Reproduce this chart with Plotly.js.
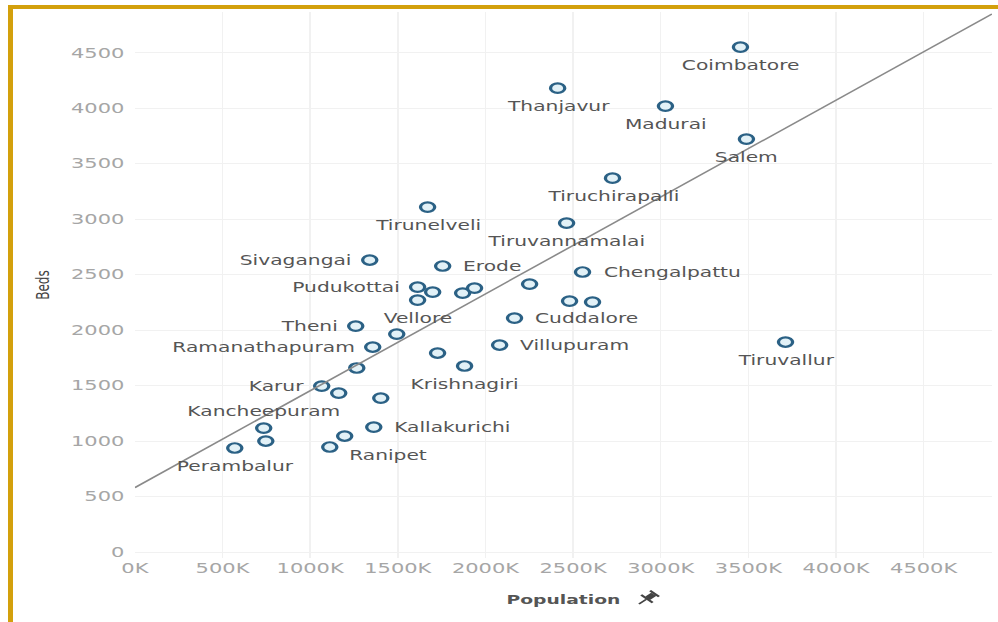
<!DOCTYPE html>
<html><head><meta charset="utf-8">
<script src="https://cdn.plot.ly/plotly-3.0.1.min.js"></script>
<style>
html,body{margin:0;padding:0;background:#fff;}
#wrap{position:relative;width:998px;height:622px;overflow:hidden;background:#fff;}
#chart{position:absolute;left:0;top:0;width:666px;height:622px;transform:scaleX(1.4985);transform-origin:0 0;}
.bl{position:absolute;background:#d3a00c;}
</style></head><body>
<div id="wrap"><div id="chart"></div>
<div class="bl" style="left:8px;top:5px;width:5px;height:617px"></div>
<div class="bl" style="left:8px;top:5px;width:990px;height:4px"></div>
</div>
<script>
// District labels ("" = point without a visible label)
const districts = ["Coimbatore","Thanjavur","Madurai","Salem","Tiruchirapalli","Tirunelveli","Tiruvannamalai",
  "Sivagangai","Erode","Chengalpattu","Pudukottai","Vellore","Cuddalore","Villupuram","Krishnagiri",
  "Theni","Ramanathapuram","Karur","Kallakurichi","Ranipet","Kancheepuram","Perambalur","Tiruvallur",
  "","","","","","","","","","","","",""];
// Population in thousands
const population = [3455,2412,3027,3489,2725,1670,2463,
  1340,1756,2554,1613,1613,2166,2081,1881,
  1260,1357,1066,1363,1112,735,570,3712,
  1699,1870,1938,2252,2480,2611,1727,1494,1266,1163,1403,1197,747];
const beds = [4550,4180,4018,3721,3369,3108,2964,
  2631,2577,2523,2387,2270,2108,1865,1676,
  2036,1847,1495,1126,946,1117,937,1892,
  2342,2333,2378,2414,2261,2252,1793,1964,1658,1432,1387,1045,1000];
// side of the point where each label sits
const labelSide = ["below","below","below","below","below","below","below",
  "left","right","right","left","below","right","right","below",
  "left","left","left","right","belowright","above","below","below",
  "","","","","","","","","","","","",""];
const xTicks = [0,500,1000,1500,2000,2500,3000,3500,4000,4500];
const yTicks = [0,500,1000,1500,2000,2500,3000,3500,4000,4500];

// Linear trend (ordinary least squares)
const n = population.length;
const mx = population.reduce((a,b)=>a+b,0)/n;
const my = beds.reduce((a,b)=>a+b,0)/n;
let sxy=0, sxx=0;
for(let i=0;i<n;i++){ sxy += (population[i]-mx)*(beds[i]-my); sxx += (population[i]-mx)**2; }
const slope = sxy/sxx, intercept = my - slope*mx;
const xRange = [0, 4890], yRange = [-54, 4866];
const trendX = [xRange[0], xRange[1]];
const trendY = trendX.map(x => intercept + slope*x);

const W = 666, H = 622, M = {l:90, r:4, t:12, b:64};
const pw = W - M.l - M.r, ph = H - M.t - M.b;
function paper(xi, yi){ return [(xi - M.l)/pw, (H - M.b - yi)/ph]; }
// small pushpin icon next to the x-axis title
function pinPath(cx, cy, k){
  const polys = [
    [[-3.5,-7],[3.5,-7],[3.5,-5.5],[-3.5,-5.5]],
    [[-2,-5.5],[2,-5.5],[2,-1],[-2,-1]],
    [[-4.5,-1],[4.5,-1],[4.5,0.5],[-4.5,0.5]],
    [[-0.6,0.5],[0.6,0.5],[0.6,6],[-0.6,6]]
  ];
  const a = Math.PI/4, c = Math.cos(a), s = Math.sin(a);
  return polys.map(p => 'M' + p.map(([x,y]) => {
    const q = paper(cx + k*(x*c - y*s), cy + k*(x*s + y*c));
    return q[0].toFixed(5)+','+q[1].toFixed(5);
  }).join('L') + 'Z').join(' ');
}

const font = "DejaVu Sans, sans-serif";
const sideStyle = {
  below:      {xanchor:'center', yanchor:'middle', xshift:0,   yshift:-18},
  above:      {xanchor:'center', yanchor:'middle', xshift:0,   yshift:17},
  left:       {xanchor:'right',  yanchor:'middle', xshift:-11, yshift:0},
  right:      {xanchor:'left',   yanchor:'middle', xshift:13,  yshift:0},
  belowright: {xanchor:'left',   yanchor:'middle', xshift:12,  yshift:-8}
};
const annotations = [];
districts.forEach((name, i) => {
  if(!name) return;
  const st = sideStyle[labelSide[i]];
  annotations.push(Object.assign({
    x: population[i], y: beds[i], xref:'x', yref:'y', text: name, showarrow:false,
    font:{family:font, size:13.5, color:'#555'}, borderpad:0
  }, st));
});

const traces = [
  {
    type:'scatter', mode:'markers',
    x: population, y: beds, text: districts,
    marker:{symbol:'circle', size:9.5, color:'#e2f1f7', line:{color:'#2b6185', width:2.2}},
    hoverinfo:'x+y+text', cliponaxis:false, showlegend:false
  },
  {
    type:'scatter', mode:'lines', x: trendX, y: trendY,
    line:{color:'#8a8a8a', width:1.4}, hoverinfo:'skip', showlegend:false
  }
];
const layout = {
  width: W, height: H, margin: M,
  paper_bgcolor:'rgba(0,0,0,0)', plot_bgcolor:'#fff',
  font:{family:font, color:'#999'},
  xaxis:{range:xRange, tickvals:xTicks, ticktext:xTicks.map(v=>v+'K'),
    showgrid:true, gridcolor:'#f1f1f1', gridwidth:1, zeroline:false, showline:false, ticks:'',
    tickfont:{family:font, size:14, color:'#a6a6a6'},
    title:{text:'Population', font:{family:font, size:12.5, color:'#555', weight:'bold'}, standoff:20}},
  yaxis:{range:yRange, tickvals:yTicks, ticktext:yTicks.map(String),
    showgrid:true, gridcolor:'#f1f1f1', gridwidth:1, zeroline:false, showline:false, ticks:'',
    ticklabelstandoff:6,
    tickfont:{family:font, size:14, color:'#a6a6a6'},
    title:{text:'Beds', font:{family:font, size:12, color:'#444'}, standoff:11}},
  annotations: annotations,
  shapes:[{type:'path', xref:'paper', yref:'paper', path: pinPath(431.5, 599, 1.2),
    fillcolor:'#444', line:{width:0}, layer:'above'}]
};
Plotly.newPlot('chart', traces, layout, {displayModeBar:false, staticPlot:true});
</script>
</body></html>
